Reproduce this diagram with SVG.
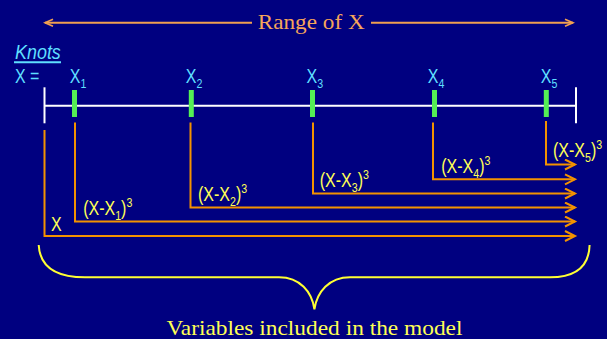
<svg xmlns="http://www.w3.org/2000/svg" width="607" height="339" viewBox="0 0 607 339">
<style>
.sans{font-family:"Liberation Sans",Arial,sans-serif;font-size:19.5px}
.serif{font-family:"Liberation Serif","Times New Roman",serif}
.cyan{fill:#5FDFFF}
.yel{fill:#FFFF55}
.org{fill:none;stroke:#F39200;stroke-width:2}
.grn{fill:#55F055}
.wht{stroke:#FFFFFF;stroke-width:2;fill:none}
.sub{font-size:13px}
</style>
<defs>
<marker id="arr" markerUnits="userSpaceOnUse" markerWidth="14" markerHeight="14" refX="11" refY="6" orient="auto"><path d="M1,1 L11,6 L1,11" fill="none" stroke="#F39200" stroke-width="2"/></marker>
<marker id="rarr" markerUnits="userSpaceOnUse" markerWidth="12" markerHeight="12" refX="9" refY="5" orient="auto"><path d="M1,1.5 L9,5 L1,8.5" fill="none" stroke="#F0A050" stroke-width="1.6"/></marker>
</defs>
<rect width="607" height="339" fill="#000080"/>
<g id="range">
<line x1="252" y1="22.7" x2="45" y2="22.7" stroke="#F0A050" stroke-width="2" marker-end="url(#rarr)"/>
<line x1="371" y1="22.7" x2="573" y2="22.7" stroke="#F0A050" stroke-width="2" marker-end="url(#rarr)"/>
<text x="257.7" y="28.5" class="serif" font-size="22" fill="#F5A55A" textLength="107" lengthAdjust="spacingAndGlyphs">Range of X</text>
</g>
<g id="knots-label">
<text transform="translate(15,59) scale(0.92,1)" class="sans cyan" font-style="italic">Knots</text>
<line x1="14" y1="62.3" x2="61" y2="62.3" stroke="#5FDFFF" stroke-width="2"/>
<text transform="translate(15,83.3) scale(0.82,1)" class="sans cyan">X =</text>
</g>
<g id="axis">
<line x1="44.5" y1="105.7" x2="576" y2="105.7" class="wht"/>
<line x1="44.5" y1="87.3" x2="44.5" y2="123.3" class="wht"/>
<line x1="576" y1="87.3" x2="576" y2="123.3" class="wht"/>
</g>
<g id="knot1"><rect x="72" y="90" width="5" height="27" class="grn"/><text transform="translate(69.7,83.3) scale(0.82,1)" class="sans cyan">X<tspan class="sub" dy="5">1</tspan></text></g>
<g id="knot2"><rect x="188.8" y="90" width="5" height="27" class="grn"/><text transform="translate(185.8,83.3) scale(0.82,1)" class="sans cyan">X<tspan class="sub" dy="5">2</tspan></text></g>
<g id="knot3"><rect x="310" y="90" width="5" height="27" class="grn"/><text transform="translate(306.6,83.3) scale(0.82,1)" class="sans cyan">X<tspan class="sub" dy="5">3</tspan></text></g>
<g id="knot4"><rect x="432" y="90" width="5" height="27" class="grn"/><text transform="translate(427.8,83.3) scale(0.82,1)" class="sans cyan">X<tspan class="sub" dy="5">4</tspan></text></g>
<g id="knot5"><rect x="543.8" y="90" width="5" height="27" class="grn"/><text transform="translate(540.8,83.3) scale(0.82,1)" class="sans cyan">X<tspan class="sub" dy="5">5</tspan></text></g>
<g id="connectors">
<path d="M44.5,130 V236 H575" class="org" marker-end="url(#arr)"/>
<path d="M75,122.5 V221.5 H575" class="org" marker-end="url(#arr)"/>
<path d="M190.5,122.5 V207.5 H575" class="org" marker-end="url(#arr)"/>
<path d="M313,122.5 V193.5 H575" class="org" marker-end="url(#arr)"/>
<path d="M433,122.5 V179.3 H575" class="org" marker-end="url(#arr)"/>
<path d="M546,121 V164.5 H575" class="org" marker-end="url(#arr)"/>
</g>
<g id="labels">
<text transform="translate(51,231) scale(0.82,1)" class="sans yel">X</text>
<text transform="translate(83.2,215) scale(0.82,1)" class="sans yel">(X-X<tspan class="sub" dy="5">1</tspan><tspan dy="-5">)</tspan><tspan class="sub" dy="-8">3</tspan></text>
<text transform="translate(198,201) scale(0.82,1)" class="sans yel">(X-X<tspan class="sub" dy="5">2</tspan><tspan dy="-5">)</tspan><tspan class="sub" dy="-8">3</tspan></text>
<text transform="translate(319.8,186.7) scale(0.82,1)" class="sans yel">(X-X<tspan class="sub" dy="5">3</tspan><tspan dy="-5">)</tspan><tspan class="sub" dy="-8">3</tspan></text>
<text transform="translate(441.3,172.7) scale(0.82,1)" class="sans yel">(X-X<tspan class="sub" dy="5">4</tspan><tspan dy="-5">)</tspan><tspan class="sub" dy="-8">3</tspan></text>
<text transform="translate(553,157.3) scale(0.82,1)" class="sans yel">(X-X<tspan class="sub" dy="5">5</tspan><tspan dy="-5">)</tspan><tspan class="sub" dy="-8">3</tspan></text>
</g>
<g id="brace">
<path d="M38.7,245 C40,268 58,277.3 85,277.3 H279 C300,277.3 312,292 314.4,309.3 C317,292 329,277.3 350,277.3 H550 C576,277.3 589,266 589.6,245" fill="none" stroke="#FFFF33" stroke-width="2"/>
<text x="166.5" y="335" class="serif" font-size="22" fill="#FFFF55" textLength="296" lengthAdjust="spacingAndGlyphs">Variables included in the model</text>
</g>
</svg>
